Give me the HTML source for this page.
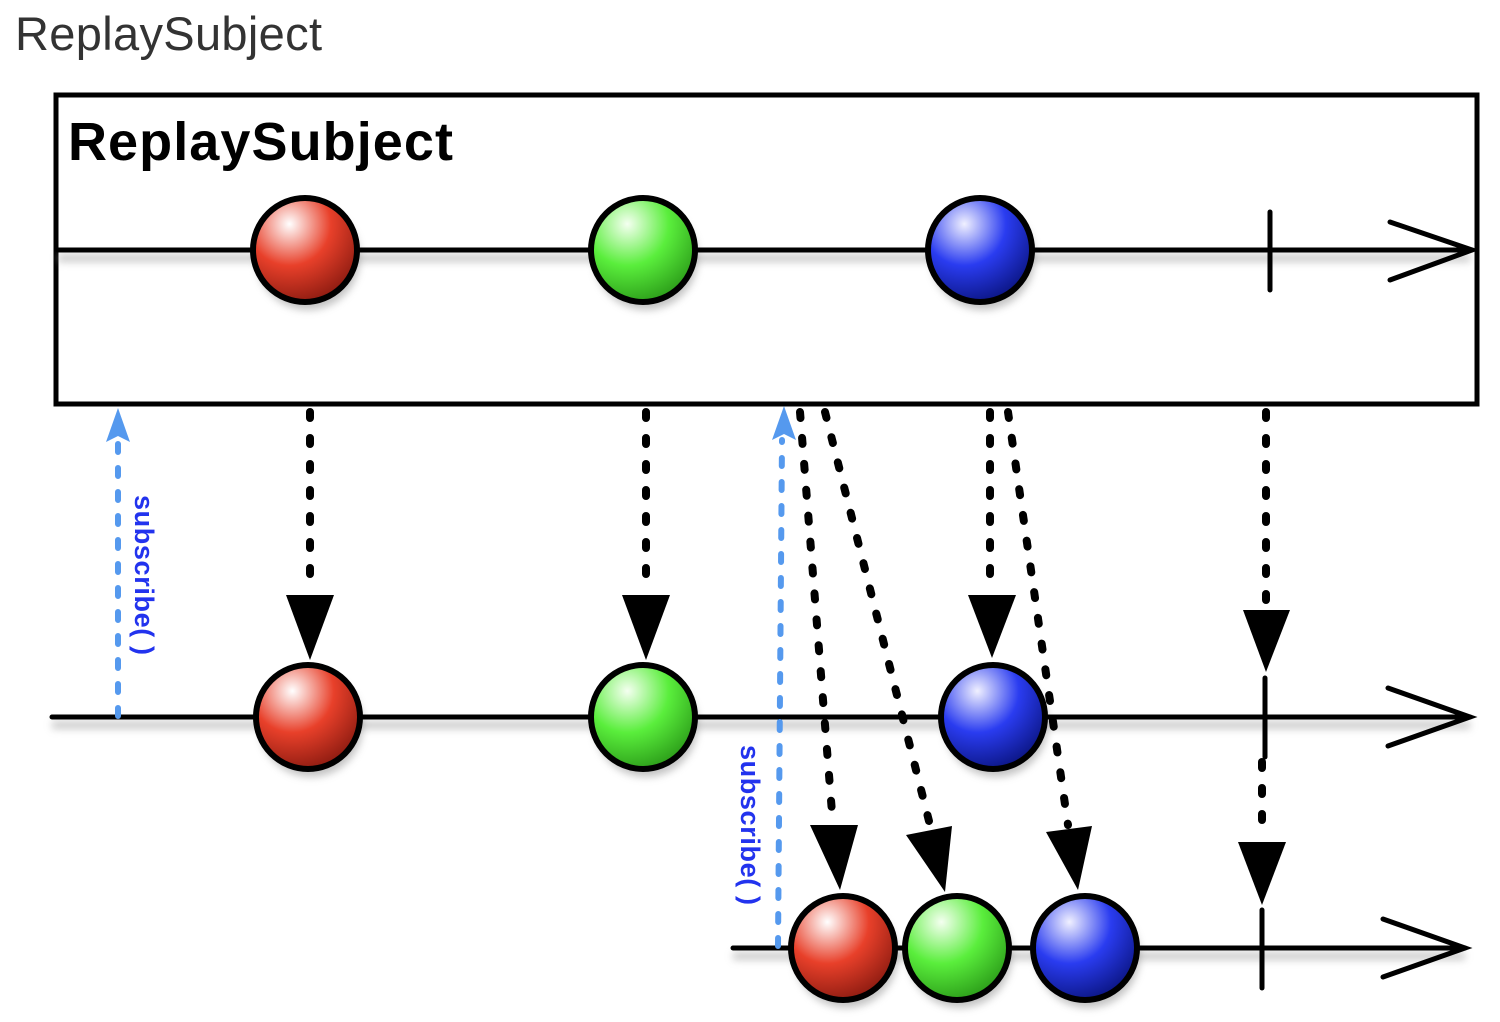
<!DOCTYPE html>
<html><head><meta charset="utf-8"><style>
html,body{margin:0;padding:0;background:#fff;width:1500px;height:1022px;overflow:hidden}
</style></head><body>
<svg width="1500" height="1022" viewBox="0 0 1500 1022" xmlns="http://www.w3.org/2000/svg">
<defs>
<radialGradient id="r" cx="0.35" cy="0.25" r="0.8"><stop offset="0" stop-color="#fff"/><stop offset="0.5" stop-color="#e8402a"/><stop offset="1" stop-color="#8a1a10"/></radialGradient>
<radialGradient id="g" cx="0.35" cy="0.25" r="0.8"><stop offset="0" stop-color="#f4fff0"/><stop offset="0.5" stop-color="#5aee3c"/><stop offset="1" stop-color="#2a9a18"/></radialGradient>
<radialGradient id="b" cx="0.35" cy="0.25" r="0.8"><stop offset="0" stop-color="#f0f0ff"/><stop offset="0.5" stop-color="#2a3cf0"/><stop offset="1" stop-color="#0a1480"/></radialGradient>
<filter id="sh" x="-20%" y="-50%" width="140%" height="200%"><feGaussianBlur stdDeviation="4"/></filter>
</defs>
<text x="15" y="50" font-family="Liberation Sans, sans-serif" font-size="47" fill="#333" textLength="307">ReplaySubject</text>
<rect x="56" y="95" width="1421" height="309" fill="none" stroke="#000" stroke-width="5"/>
<text x="68" y="160" font-family="Liberation Sans, sans-serif" font-size="54" font-weight="bold" fill="#000" textLength="385">ReplaySubject</text>
<g stroke="#999" stroke-width="8" opacity="0.5" filter="url(#sh)">
<line x1="58" y1="258" x2="1470" y2="258"/><line x1="52" y1="725" x2="1470" y2="725"/><line x1="733" y1="956" x2="1465" y2="956"/>
</g>
<g fill="#888" opacity="0.5" filter="url(#sh)">
<circle cx="308" cy="258" r="52"/><circle cx="646" cy="258" r="52"/><circle cx="983" cy="258" r="52"/>
<circle cx="311" cy="725" r="52"/><circle cx="646" cy="725" r="52"/><circle cx="996" cy="725" r="52"/>
<circle cx="846" cy="956" r="52"/><circle cx="960" cy="956" r="52"/><circle cx="1088" cy="956" r="52"/>
</g>
<g stroke="#000" stroke-width="5" fill="none" stroke-linecap="round">
<line x1="58" y1="250" x2="1472" y2="250"/>
<polyline points="1390,222 1472,250 1390,280"/>
<line x1="1270" y1="212" x2="1270" y2="290"/>
<line x1="52" y1="717" x2="1470" y2="717"/>
<polyline points="1388,688 1470,717 1388,746"/>
<line x1="1265" y1="678" x2="1265" y2="757"/>
<line x1="733" y1="948" x2="1465" y2="948"/>
<polyline points="1383,919 1465,948 1383,977"/>
<line x1="1262" y1="910" x2="1262" y2="988"/>
</g>
<g stroke="#000" stroke-width="8" stroke-dasharray="6 20" stroke-linecap="round" fill="none">
<line x1="310" y1="412" x2="310" y2="590"/>
<line x1="646" y1="412" x2="646" y2="590"/>
<line x1="990" y1="412" x2="990" y2="590"/>
<line x1="1266" y1="412" x2="1266" y2="605"/>
<line x1="1262" y1="762" x2="1262" y2="838"/>
<line x1="800" y1="412" x2="833" y2="825"/>
<line x1="825" y1="412" x2="930" y2="825"/>
<line x1="1008" y1="412" x2="1068" y2="825"/>
</g>
<g fill="#000">
<polygon points="286,595 334,595 310,660"/>
<polygon points="622,595 670,595 646,660"/>
<polygon points="968,595 1016,595 992,658"/>
<polygon points="1243,610 1290,610 1266,672"/>
<polygon points="1238,842 1286,842 1262,905"/>
<polygon points="810,825 858,825 840,890"/>
<polygon points="906,835 952,826 945,892"/>
<polygon points="1046,832 1092,826 1078,890"/>
</g>
<g stroke="#5599ee" stroke-width="6" stroke-dasharray="8 16" stroke-linecap="round" fill="none">
<line x1="118" y1="716" x2="118" y2="440"/>
<line x1="778" y1="946" x2="782" y2="440"/>
</g>
<g fill="#5599ee">
<polygon points="118,408 106,442 118,436 130,442"/>
<polygon points="784,406 772,440 784,434 796,440"/>
</g>
<text transform="translate(135,495) rotate(90)" font-family="Liberation Sans, sans-serif" font-size="27" font-weight="bold" fill="#2233ee" textLength="160">subscribe( )</text>
<text transform="translate(741,745) rotate(90)" font-family="Liberation Sans, sans-serif" font-size="27" font-weight="bold" fill="#2233ee" textLength="160">subscribe( )</text>
<g stroke="#000" stroke-width="6">
<ellipse cx="305" cy="250" rx="52" ry="52" fill="url(#r)"/>
<ellipse cx="643" cy="250" rx="52" ry="52" fill="url(#g)"/>
<ellipse cx="980" cy="250" rx="52" ry="52" fill="url(#b)"/>
<ellipse cx="308" cy="717" rx="52" ry="52" fill="url(#r)"/>
<ellipse cx="643" cy="717" rx="52" ry="52" fill="url(#g)"/>
<ellipse cx="993" cy="717" rx="52" ry="52" fill="url(#b)"/>
<ellipse cx="843" cy="948" rx="52" ry="52" fill="url(#r)"/>
<ellipse cx="957" cy="948" rx="52" ry="52" fill="url(#g)"/>
<ellipse cx="1085" cy="948" rx="52" ry="52" fill="url(#b)"/>
</g>
</svg>
</body></html>
